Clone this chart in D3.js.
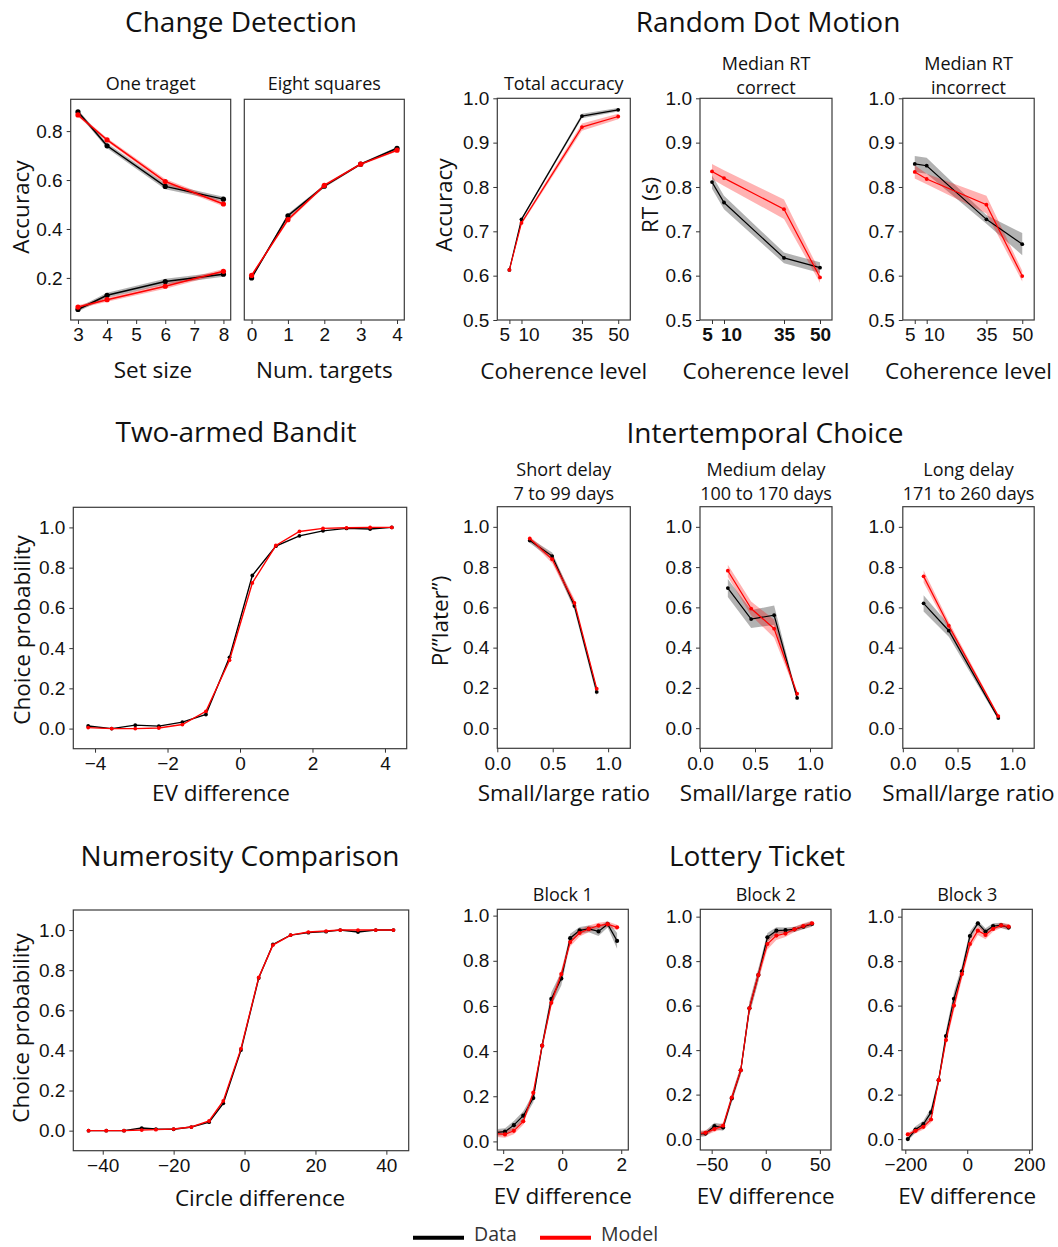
<!DOCTYPE html>
<html>
<head>
<meta charset="utf-8">
<script src="https://cdn.jsdelivr.net/npm/d3@7"></script>
<style>
  body { margin: 0; background: #fff; }
  .lbl { font-family: "Open Sans", "Noto Sans", sans-serif; fill: #111; }
  .tick text { font-family: "Liberation Sans", Arial, sans-serif; font-size: 19px; fill: #111; }
</style>
</head>
<body>
<div id="chart"></div>
<script>
// ---- Change Detection ----
const cdSetSize = [3, 4, 6, 8];
const cdOneHighData = [0.879, 0.740, 0.574, 0.522];
const cdOneHighModel = [0.866, 0.764, 0.594, 0.502];
const cdOneLowData = [0.071, 0.129, 0.185, 0.215];
const cdOneLowModel = [0.081, 0.111, 0.166, 0.227];
const cdOneDataErr = [0.008, 0.010, 0.012, 0.010];
const cdOneModelErr = [0.007, 0.008, 0.010, 0.009];
const cdNumTargets = [0, 1, 2, 3, 4];
const cdEightData = [0.200, 0.454, 0.575, 0.665, 0.730];
const cdEightModel = [0.210, 0.438, 0.578, 0.665, 0.722];
const cdEightErr = [0.005, 0.008, 0.006, 0.005, 0.005];

// ---- Random Dot Motion ----
const rdmCoherence = [5, 10, 35, 50];
const rdmAccData = [0.613, 0.727, 0.960, 0.974];
const rdmAccModel = [0.613, 0.719, 0.935, 0.959];
const rdmAccDataErr = [0.002, 0.003, 0.005, 0.004];
const rdmAccModelErr = [0.002, 0.004, 0.008, 0.006];
const rdmRtCorData = [0.811, 0.765, 0.640, 0.618];
const rdmRtCorModel = [0.835, 0.820, 0.750, 0.596];
const rdmRtCorDataErr = [0.015, 0.015, 0.012, 0.012];
const rdmRtCorModelErr = [0.017, 0.018, 0.022, 0.012];
const rdmRtIncData = [0.852, 0.848, 0.727, 0.671];
const rdmRtIncModel = [0.834, 0.818, 0.760, 0.599];
const rdmRtIncDataErr = [0.018, 0.018, 0.010, 0.025];
const rdmRtIncModelErr = [0.015, 0.012, 0.020, 0.012];
const rdmTickDx = [-5, 7, 0, 0];

// ---- Two-armed Bandit ----
const banditEv = [-4.19, -3.54, -2.89, -2.24, -1.59, -0.94, -0.29, 0.34, 0.99, 1.64, 2.29, 2.94, 3.59, 4.19];
const banditData = [0.013, 0.0, 0.017, 0.012, 0.032, 0.07, 0.354, 0.761, 0.907, 0.958, 0.983, 0.995, 0.992, 1.0];
const banditModel = [0.005, 0.0, 0.0, 0.003, 0.02, 0.086, 0.34, 0.724, 0.91, 0.98, 0.995, 0.998, 1.0, 1.0];

// ---- Intertemporal Choice ----
const itcShortRatio = [0.293, 0.495, 0.696, 0.897];
const itcShortData = [0.932, 0.855, 0.607, 0.180];
const itcShortModel = [0.942, 0.839, 0.622, 0.196];
const itcShortDataErr = [0.012, 0.018, 0.02, 0.02];
const itcShortModelErr = [0.01, 0.02, 0.02, 0.01];
const itcMediumRatio = [0.253, 0.465, 0.674, 0.883];
const itcMediumData = [0.696, 0.542, 0.561, 0.150];
const itcMediumModel = [0.782, 0.594, 0.494, 0.171];
const itcMediumDataErr = [0.045, 0.045, 0.048, 0.01];
const itcMediumModelErr = [0.03, 0.035, 0.045, 0.01];
const itcLongRatio = [0.19, 0.42, 0.872];
const itcLongData = [0.62, 0.484, 0.05];
const itcLongModel = [0.754, 0.509, 0.06];
const itcLongDataErr = [0.04, 0.03, 0.008];
const itcLongModelErr = [0.03, 0.02, 0.008];

// ---- Numerosity Comparison ----
const numDiff = [-44, -39, -34, -29, -25, -20, -15, -10, -6, -1, 4, 8, 13, 18, 23, 27, 32, 37, 42];
const numData = [0, 0, 0, 0.013, 0.008, 0.007, 0.018, 0.042, 0.136, 0.402, 0.761, 0.928, 0.975, 0.987, 0.992, 1.0, 0.99, 1.0, 1.0];
const numModel = [0, 0, 0, 0.003, 0.005, 0.008, 0.018, 0.048, 0.148, 0.409, 0.764, 0.925, 0.975, 0.99, 0.995, 1.0, 1.0, 1.0, 1.0];

// ---- Lottery Ticket ----
const lotB1Ev = [-2.25, -1.94, -1.64, -1.32, -0.98, -0.68, -0.37, -0.03, 0.27, 0.59, 0.9, 1.23, 1.54, 1.86];
const lotB1Data = [0.04, 0.043, 0.072, 0.114, 0.192, 0.424, 0.631, 0.721, 0.90, 0.935, 0.941, 0.93, 0.962, 0.888];
const lotB1Model = [0.035, 0.031, 0.047, 0.089, 0.216, 0.424, 0.614, 0.741, 0.883, 0.923, 0.941, 0.956, 0.962, 0.948];
const lotB1DataErr = [0.015, 0.015, 0.018, 0.02, 0.02, 0.02, 0.03, 0.03, 0.02, 0.015, 0.015, 0.02, 0.015, 0.035];
const lotB1ModelErr = [0.015, 0.015, 0.015, 0.015, 0.015, 0.015, 0.02, 0.02, 0.02, 0.015, 0.015, 0.012, 0.012, 0.012];
const lotB2Ev = [-63.9, -55.7, -47.4, -39.4, -31.4, -23.1, -15.1, -6.8, 1.5, 9.8, 18.2, 26.5, 34.8, 42.8];
const lotB2Data = [0.02, 0.025, 0.058, 0.052, 0.183, 0.309, 0.588, 0.738, 0.907, 0.937, 0.939, 0.943, 0.955, 0.967];
const lotB2Model = [0.025, 0.028, 0.045, 0.06, 0.187, 0.309, 0.588, 0.738, 0.877, 0.915, 0.924, 0.943, 0.958, 0.97];
const lotB2DataErr = [0.012, 0.012, 0.015, 0.015, 0.02, 0.02, 0.03, 0.03, 0.02, 0.015, 0.012, 0.012, 0.012, 0.012];
const lotB2ModelErr = [0.012, 0.012, 0.012, 0.015, 0.015, 0.02, 0.025, 0.025, 0.025, 0.02, 0.015, 0.012, 0.012, 0.012];
const lotB3Ev = [-192, -167, -141.6, -116.9, -92.2, -68.6, -42.9, -17.2, 8.6, 34.3, 59, 83.6, 109.4, 134];
const lotB3Data = [0.0, 0.043, 0.067, 0.12, 0.265, 0.463, 0.631, 0.754, 0.913, 0.97, 0.933, 0.958, 0.961, 0.951];
const lotB3Model = [0.021, 0.037, 0.055, 0.088, 0.265, 0.445, 0.6, 0.742, 0.877, 0.937, 0.918, 0.945, 0.961, 0.955];
const lotB3DataErr = [0.008, 0.015, 0.015, 0.02, 0.02, 0.025, 0.03, 0.025, 0.02, 0.012, 0.015, 0.012, 0.012, 0.012];
const lotB3ModelErr = [0.008, 0.012, 0.012, 0.015, 0.015, 0.02, 0.025, 0.025, 0.02, 0.02, 0.02, 0.012, 0.012, 0.012];

const BLACK = '#000000';
const RED = '#ff0000';

const svg = d3.select('#chart').append('svg')
    .attr('width', 1058)
    .attr('height', 1247);

let clipId = 0;

function series(x, y, err, color) {
    return {x: x, y: y, err: err, color: color};
}

function drawPanel(cfg) {
    const g = svg.append('g');
    const x = d3.scaleLinear().domain(cfg.xDomain).range([cfg.x0, cfg.x1]);
    const y = d3.scaleLinear().domain(cfg.yDomain).range([cfg.y1, cfg.y0]);

    const id = 'clip' + (clipId++);
    g.append('clipPath').attr('id', id)
        .append('rect')
        .attr('x', cfg.x0).attr('y', cfg.y0)
        .attr('width', cfg.x1 - cfg.x0).attr('height', cfg.y1 - cfg.y0);

    const plot = g.append('g').attr('clip-path', 'url(#' + id + ')');

    // bands
    cfg.series.forEach(s => {
        if (!s.err) return;
        const pts = s.x.map((v, i) => ({x: v, y: s.y[i], e: s.err[i]}));
        plot.append('path')
            .datum(pts)
            .attr('fill', s.color)
            .attr('fill-opacity', 0.3)
            .attr('stroke', 'none')
            .attr('d', d3.area()
                .x(d => x(d.x))
                .y0(d => y(d.y - d.e))
                .y1(d => y(d.y + d.e)));
    });

    // lines + markers
    cfg.series.forEach(s => {
        const pts = s.x.map((v, i) => ({x: v, y: s.y[i]}));
        plot.append('path')
            .datum(pts)
            .attr('fill', 'none')
            .attr('stroke', s.color)
            .attr('stroke-width', cfg.lw)
            .attr('d', d3.line().x(d => x(d.x)).y(d => y(d.y)));
        plot.selectAll(null)
            .data(pts)
            .enter()
            .append('circle')
            .attr('cx', d => x(d.x))
            .attr('cy', d => y(d.y))
            .attr('r', cfg.r)
            .attr('fill', s.color);
    });

    // axes
    const xAxis = g.append('g')
        .attr('transform', 'translate(0,' + cfg.y1 + ')')
        .call(d3.axisBottom(x).tickValues(cfg.xTicks).tickFormat(cfg.xFmt)
            .tickSize(4).tickPadding(4).tickSizeOuter(0));
    xAxis.select('.domain').remove();
    xAxis.selectAll('.tick line').attr('stroke', '#333');
    if (cfg.xTickDx) {
        xAxis.selectAll('.tick text').attr('dx', (d, i) => cfg.xTickDx[i]);
    }
    if (cfg.xTickWeight) {
        xAxis.selectAll('.tick text').style('font-weight', cfg.xTickWeight);
    }

    const yAxis = g.append('g')
        .attr('transform', 'translate(' + cfg.x0 + ',0)')
        .call(d3.axisLeft(y).tickValues(cfg.yTicks).tickFormat(cfg.yFmt)
            .tickSize(cfg.yTicks.length ? 4 : 0).tickPadding(4).tickSizeOuter(0));
    yAxis.select('.domain').remove();
    yAxis.selectAll('.tick line').attr('stroke', '#333');

    // frame
    g.append('rect')
        .attr('x', cfg.x0).attr('y', cfg.y0)
        .attr('width', cfg.x1 - cfg.x0).attr('height', cfg.y1 - cfg.y0)
        .attr('fill', 'none')
        .attr('stroke', '#3a3a3a')
        .attr('stroke-width', 1.2);

    const cx = (cfg.x0 + cfg.x1) / 2;
    if (cfg.title) {
        cfg.title.forEach((t, i) => {
            g.append('text').attr('class', 'lbl')
                .attr('x', cx).attr('y', cfg.titleY + i * 24)
                .attr('text-anchor', 'middle')
                .style('font-size', '18px')
                .text(t);
        });
    }
    if (cfg.xLabel) {
        g.append('text').attr('class', 'lbl')
            .attr('x', cfg.xLabelX || cx).attr('y', cfg.xLabelY)
            .attr('text-anchor', 'middle')
            .style('font-size', '22.5px')
            .text(cfg.xLabel);
    }
    if (cfg.yLabel) {
        const my = cfg.yLabelCy || (cfg.y0 + cfg.y1) / 2;
        g.append('text').attr('class', 'lbl')
            .attr('transform', 'translate(' + cfg.yLabelX + ',' + my + ') rotate(-90)')
            .attr('text-anchor', 'middle')
            .attr('dy', '0.35em')
            .style('font-size', '22.5px')
            .text(cfg.yLabel);
    }
}

function heading(text, cx, yBase) {
    svg.append('text').attr('class', 'lbl')
        .attr('x', cx).attr('y', yBase)
        .attr('text-anchor', 'middle')
        .style('font-size', '28px')
        .text(text);
}

const f1 = d3.format('.1f');
const fInt = d3.format('d');
const probTicks = [0, 0.2, 0.4, 0.6, 0.8, 1.0];

// ===== Change Detection =====
heading('Change Detection', 241, 32);
const cdY = [0.028, 0.93];
drawPanel({
    x0: 70.7, x1: 230.7, y0: 99.3, y1: 320,
    xDomain: [2.75, 8.25], yDomain: cdY,
    xTicks: [3, 4, 5, 6, 7, 8], xFmt: fInt,
    yTicks: [0.2, 0.4, 0.6, 0.8], yFmt: f1,
    lw: 1.5, r: 2.6,
    series: [
        series(cdSetSize, cdOneHighData, cdOneDataErr, BLACK),
        series(cdSetSize, cdOneLowData, cdOneDataErr, BLACK),
        series(cdSetSize, cdOneHighModel, cdOneModelErr, RED),
        series(cdSetSize, cdOneLowModel, cdOneModelErr, RED)
    ],
    title: ['One traget'], titleY: 90,
    xLabel: 'Set size', xLabelX: 153, xLabelY: 378,
    yLabel: 'Accuracy', yLabelX: 21, yLabelCy: 207
});
drawPanel({
    x0: 244.3, x1: 404.3, y0: 99.3, y1: 320,
    xDomain: [-0.2, 4.2], yDomain: cdY,
    xTicks: [0, 1, 2, 3, 4], xFmt: fInt,
    yTicks: [], yFmt: f1,
    lw: 1.5, r: 2.6,
    series: [
        series(cdNumTargets, cdEightData, cdEightErr, BLACK),
        series(cdNumTargets, cdEightModel, cdEightErr, RED)
    ],
    title: ['Eight squares'], titleY: 90,
    xLabel: 'Num. targets', xLabelY: 378
});

// ===== Random Dot Motion =====
heading('Random Dot Motion', 768, 32);
const colX = [[497.3, 630.3], [700, 832], [902.8, 1034.2]];
const rdmTicksY = [0.5, 0.6, 0.7, 0.8, 0.9, 1.0];
const rdmPanels = [
    {title: ['Total accuracy'], titleY: 90, yLabel: 'Accuracy', yLabelX: 444,
     s: [series(rdmCoherence, rdmAccData, rdmAccDataErr, BLACK), series(rdmCoherence, rdmAccModel, rdmAccModelErr, RED)]},
    {title: ['Median RT', 'correct'], titleY: 70, yLabel: 'RT (s)', yLabelX: 650, bold: 600,
     s: [series(rdmCoherence, rdmRtCorData, rdmRtCorDataErr, BLACK), series(rdmCoherence, rdmRtCorModel, rdmRtCorModelErr, RED)]},
    {title: ['Median RT', 'incorrect'], titleY: 70,
     s: [series(rdmCoherence, rdmRtIncData, rdmRtIncDataErr, BLACK), series(rdmCoherence, rdmRtIncModel, rdmRtIncModelErr, RED)]}
];
rdmPanels.forEach((p, i) => {
    drawPanel({
        x0: colX[i][0], x1: colX[i][1], y0: 98.3, y1: 320,
        xDomain: [0, 55], yDomain: [0.5, 1.0],
        xTicks: rdmCoherence, xFmt: fInt, xTickDx: rdmTickDx, xTickWeight: p.bold,
        yTicks: rdmTicksY, yFmt: f1,
        lw: 1.2, r: 1.9,
        series: p.s,
        title: p.title, titleY: p.titleY,
        xLabel: 'Coherence level', xLabelY: 379,
        yLabel: p.yLabel, yLabelX: p.yLabelX, yLabelCy: 205
    });
});

// ===== Two-armed Bandit =====
heading('Two-armed Bandit', 236, 442);
drawPanel({
    x0: 73.3, x1: 406.7, y0: 507.3, y1: 748.7,
    xDomain: [-4.6, 4.6], yDomain: [-0.1, 1.1],
    xTicks: [-4, -2, 0, 2, 4], xFmt: fInt,
    yTicks: probTicks, yFmt: f1,
    lw: 1.4, r: 1.9,
    series: [
        series(banditEv, banditData, null, BLACK),
        series(banditEv, banditModel, null, RED)
    ],
    xLabel: 'EV difference', xLabelX: 221, xLabelY: 801,
    yLabel: 'Choice probability', yLabelX: 22, yLabelCy: 630
});

// ===== Intertemporal Choice =====
heading('Intertemporal Choice', 765, 443);
const itcPanels = [
    {title: ['Short delay', '7 to 99 days'], yLabel: 'P(\u201Dlater\u201D)',
     s: [series(itcShortRatio, itcShortData, itcShortDataErr, BLACK), series(itcShortRatio, itcShortModel, itcShortModelErr, RED)]},
    {title: ['Medium delay', '100 to 170 days'],
     s: [series(itcMediumRatio, itcMediumData, itcMediumDataErr, BLACK), series(itcMediumRatio, itcMediumModel, itcMediumModelErr, RED)]},
    {title: ['Long delay', '171 to 260 days'],
     s: [series(itcLongRatio, itcLongData, itcLongDataErr, BLACK), series(itcLongRatio, itcLongModel, itcLongModelErr, RED)]}
];
itcPanels.forEach((p, i) => {
    drawPanel({
        x0: colX[i][0], x1: colX[i][1], y0: 506.7, y1: 748.3,
        xDomain: [0, 1.2], yDomain: [-0.1, 1.1],
        xTicks: [0, 0.5, 1.0], xFmt: f1,
        yTicks: probTicks, yFmt: f1,
        lw: 1.2, r: 1.9,
        series: p.s,
        title: p.title, titleY: 476,
        xLabel: 'Small/large ratio', xLabelY: 801,
        yLabel: p.yLabel, yLabelX: 440, yLabelCy: 621
    });
});

// ===== Numerosity Comparison =====
heading('Numerosity Comparison', 240, 866);
drawPanel({
    x0: 73.3, x1: 408.7, y0: 910, y1: 1150.7,
    xDomain: [-48.3, 46.3], yDomain: [-0.1, 1.1],
    xTicks: [-40, -20, 0, 20, 40], xFmt: fInt,
    yTicks: probTicks, yFmt: f1,
    lw: 1.4, r: 1.9,
    series: [
        series(numDiff, numData, null, BLACK),
        series(numDiff, numModel, null, RED)
    ],
    xLabel: 'Circle difference', xLabelX: 260, xLabelY: 1206,
    yLabel: 'Choice probability', yLabelX: 21, yLabelCy: 1028
});

// ===== Lottery Ticket =====
heading('Lottery Ticket', 757, 866);
const lotCols = [[497.3, 628.3], [700.3, 831], [902, 1032.3]];
const lotPanels = [
    {title: ['Block 1'], xDomain: [-2.2, 2.24], yDomain: [-0.038, 1.028], xTicks: [-2, 0, 2],
     s: [series(lotB1Ev, lotB1Data, lotB1DataErr, BLACK), series(lotB1Ev, lotB1Model, lotB1ModelErr, RED)]},
    {title: ['Block 2'], xDomain: [-60.5, 60.3], yDomain: [-0.049, 1.033], xTicks: [-50, 0, 50],
     s: [series(lotB2Ev, lotB2Data, lotB2DataErr, BLACK), series(lotB2Ev, lotB2Model, lotB2ModelErr, RED)]},
    {title: ['Block 3'], xDomain: [-210.7, 210.2], yDomain: [-0.049, 1.033], xTicks: [-200, 0, 200],
     s: [series(lotB3Ev, lotB3Data, lotB3DataErr, BLACK), series(lotB3Ev, lotB3Model, lotB3ModelErr, RED)]}
];
lotPanels.forEach((p, i) => {
    drawPanel({
        x0: lotCols[i][0], x1: lotCols[i][1], y0: 909.3, y1: 1150,
        xDomain: p.xDomain, yDomain: p.yDomain,
        xTicks: p.xTicks, xFmt: fInt,
        yTicks: probTicks, yFmt: f1,
        lw: 1.2, r: 2.1,
        series: p.s,
        title: p.title, titleY: 901,
        xLabel: 'EV difference', xLabelY: 1204
    });
});

// ===== Legend =====
const legend = svg.append('g');
const legendItems = [
    {label: 'Data', color: BLACK, x: 413},
    {label: 'Model', color: RED, x: 540}
];
legendItems.forEach(it => {
    legend.append('line')
        .attr('x1', it.x).attr('x2', it.x + 51)
        .attr('y1', 1237.7).attr('y2', 1237.7)
        .attr('stroke', it.color).attr('stroke-width', 4);
    legend.append('text').attr('class', 'lbl')
        .attr('x', it.x + 61).attr('y', 1240.5)
        .style('font-size', '19.5px')
        .style('fill', '#333')
        .text(it.label);
});
</script>
</body>
</html>
